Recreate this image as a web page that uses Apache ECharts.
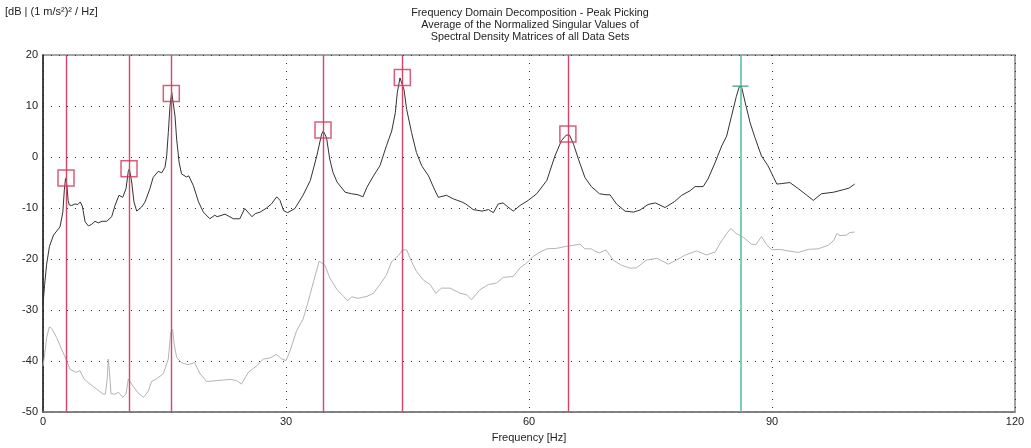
<!DOCTYPE html>
<html><head><meta charset="utf-8">
<script src="https://cdn.jsdelivr.net/npm/echarts@6/dist/echarts.min.js"></script>
<style>html,body{margin:0;padding:0;background:#fff}#c{width:1031px;height:448px}</style>
</head><body><div id="c"></div>
<script>
// First (averaged, normalized) singular value curve
const sv1Freq = [0,0.2,0.45,0.8,1.3,2.1,2.45,2.63,2.78,2.95,3.1,3.25,3.55,3.95,4.3,4.6,4.85,5.2,5.6,6.0,6.42,6.83,7.3,7.86,8.48,8.89,9.38,9.84,10.25,10.53,10.66,10.95,11.23,11.57,12.18,12.6,13.2,13.6,14.23,14.65,15.06,15.27,15.47,15.68,15.89,16.09,16.3,16.5,16.8,17.1,17.7,18.0,18.56,19.2,19.8,20.6,21.2,21.5,22.47,23.5,24.3,24.9,25.3,25.8,26.2,26.8,27.6,28.2,28.85,29.26,29.7,30.2,31.1,32.1,33.0,33.8,34.4,34.6,35.0,35.4,35.8,36.3,37.3,38.1,38.9,39.5,40.0,40.8,41.6,42.4,43.05,43.5,43.74,44.07,44.3,44.57,44.9,45.5,46.1,46.75,47.6,48.2,48.8,49.8,50.65,51.7,52.2,53.1,54.2,55.0,55.6,56.2,56.8,57.4,58.06,58.9,59.9,60.95,62.2,63.2,64.0,64.6,65.0,65.5,66.1,66.9,67.7,68.7,69.5,70.0,70.8,71.85,72.9,73.7,74.7,75.6,76.8,78.0,78.85,79.9,80.5,81.5,82.1,83.0,83.8,84.4,85.0,85.6,85.96,86.25,86.7,87.3,87.9,88.7,89.5,90.2,90.6,91.2,92.2,93.25,94.3,95.1,96.1,97.6,98.8,99.5,100.2];
const sv1Db = [-29,-25,-21,-17.5,-15.3,-13.7,-10.8,-6.5,-4.2,-5.5,-8.5,-9.4,-9.5,-9.2,-9.3,-8.8,-9.6,-12.7,-13.5,-13.2,-12.6,-12.9,-12.6,-12.6,-11.7,-9.5,-7.5,-7.9,-6.2,-2.8,-2.3,-4.9,-8.8,-10.6,-9.8,-8.8,-6.2,-4.0,-2.8,-3.1,-2.0,0.2,4.8,10.0,12.7,12.8,8.0,3.5,-1.0,-3.3,-3.9,-3.7,-5.6,-8.8,-10.8,-12.1,-11.4,-11.7,-11.2,-12.1,-12.1,-10.1,-10.8,-11.7,-11.1,-10.8,-10.0,-9.2,-7.8,-8.5,-10.5,-10.9,-10.1,-7.5,-4.6,0.2,4.5,5.1,3.8,-0.4,-3.0,-4.9,-6.9,-7.2,-7.4,-7.8,-5.9,-3.7,-1.7,2.2,5.1,8.7,12.6,15.5,15.5,13.2,9.3,4.8,0.9,-1.7,-3.7,-5.9,-7.9,-7.5,-8.2,-8.8,-9.2,-10.3,-10.6,-10.3,-10.9,-9.2,-9.0,-9.8,-10.6,-9.5,-8.5,-7.2,-4.6,0.2,3.2,4.3,4.3,2.5,-0.4,-4.0,-5.8,-7.2,-7.4,-7.4,-9.2,-10.6,-10.8,-10.4,-9.3,-9.0,-9.9,-8.7,-7.5,-6.6,-5.8,-5.8,-4.3,-1.0,2.2,4.1,8.0,11.9,13.8,13.7,10.6,6.7,3.8,0.2,-1.7,-4.0,-5.3,-5.2,-5.0,-6.2,-7.5,-8.5,-7.2,-6.9,-6.4,-6.1,-5.3];

// Second singular value curve
const sv2Freq = [0,0.16,0.45,0.78,1.07,1.69,2.3,2.84,3.33,4.07,4.57,5.06,5.8,6.63,7.44,7.7,7.94,8.06,8.2,8.4,8.9,9.3,9.84,10.25,10.53,10.7,11.15,11.77,12.4,13.0,13.4,14.0,14.85,15.47,15.76,16.0,16.2,16.5,17.1,17.9,18.7,19.4,20.2,21.0,22.3,23.1,23.9,24.5,25.35,26.4,27.2,28.0,28.8,29.5,30.0,30.5,31.3,32.1,32.75,33.4,34.1,34.8,35.4,36.3,37.1,37.6,38.1,38.9,40.0,40.8,41.6,42.4,43.05,43.9,44.4,44.9,45.5,46.1,46.95,47.8,48.5,49.2,50.25,51.5,52.3,52.9,53.95,54.98,56.0,56.8,58.06,58.9,59.7,60.5,61.4,62.2,63.4,64.65,66.3,66.9,67.7,68.1,68.7,69.5,70.4,71.4,72.5,73.3,74.5,75.8,77.2,78.2,79.3,80.7,81.9,83.0,83.6,84.4,84.9,85.6,86.5,87.5,88.0,88.7,88.9,89.3,89.95,91.0,92.0,93.25,94.5,95.7,96.95,97.65,98.0,98.4,99.2,99.6,100.2];
const sv2Db = [-41,-39.3,-35.4,-33.3,-33.6,-35.4,-37.7,-39.6,-41.6,-42.2,-41.9,-43.5,-44.5,-45.5,-46.5,-46.5,-43.2,-39.6,-42,-46.4,-46.5,-46.1,-47.1,-46.5,-43.5,-43.5,-45.0,-46.3,-47.1,-45.9,-44.0,-43.5,-42.5,-39.6,-34.4,-33.8,-36.7,-39.3,-40.3,-40.7,-40.3,-42.5,-44.0,-43.9,-43.7,-43.6,-43.8,-44.5,-42.2,-40.9,-39.6,-39.4,-38.7,-39.6,-39.9,-38.0,-34.1,-31.8,-28.3,-24.4,-20.4,-21.2,-23.7,-26.0,-27.3,-28.2,-27.4,-27.7,-27.3,-26.7,-25.0,-23.1,-20.5,-19.3,-18.2,-18.2,-20.5,-22.4,-24.1,-25.0,-26.7,-25.7,-25.7,-26.7,-27.0,-28.0,-26.0,-25.0,-24.7,-23.6,-23.4,-21.7,-20.8,-19.5,-18.6,-18.0,-17.9,-17.5,-17.1,-18.0,-18.0,-18.4,-18.8,-18.2,-20.2,-21.2,-21.8,-21.7,-20.2,-19.85,-21.0,-20.2,-19.2,-18.4,-19.2,-18.6,-16.9,-15.0,-14.0,-15.0,-15.8,-17.1,-17.2,-15.6,-15.3,-17.1,-18.2,-18.1,-18.4,-18.7,-18.1,-18.0,-17.3,-16.3,-15.0,-15.4,-15.3,-14.8,-14.7];

// Picked peaks
const peakFreq = [2.84, 10.62, 15.84, 34.57, 44.36, 64.8];
const peakDb = [-4.1, -2.3, 12.45, 5.3, 15.57, 4.5];
// Current (selected) peak
const selFreq = [86.1];
const selDb = [13.9];

const xTicks = [0, 30, 60, 90, 120];
const yTicks = [-50, -40, -30, -20, -10, 0, 10, 20];

const titleLines = ['Frequency Domain Decomposition - Peak Picking','Average of the Normalized Singular Values of','Spectral Density Matrices of all Data Sets'];
const yUnit = '[dB | (1 m/s\u00b2)\u00b2 / Hz]';
const xName = 'Frequency [Hz]';

const pair = (a, b) => a.map((v, i) => [v, b[i]]);
const font = 'Liberation Sans, Arial, sans-serif';

const chart = echarts.init(document.getElementById('c'), null, {renderer: 'canvas'});
chart.setOption({
  animation: false,
  backgroundColor: '#fff',
  textStyle: {fontFamily: font},
  graphic: [
    {type: 'text', x: 5, y: 6.5, style: {text: yUnit, fontSize: 11, fill: '#222', fontFamily: font}},
    {type: 'text', x: 530, y: 6.5, style: {text: titleLines.join('\n'), fontSize: 10.8, lineHeight: 12.4, fill: '#222', align: 'center', fontFamily: font}}
  ],
  grid: {left: 43, right: 16, top: 55, bottom: 33, show: true, borderColor: '#888', borderWidth: 1.5},
  xAxis: {
    type: 'value', min: 0, max: 120, interval: 30,
    name: xName, nameLocation: 'middle', nameGap: 17,
    nameTextStyle: {fontSize: 11, color: '#222', fontFamily: font},
    axisLine: {show: true, onZero: false, lineStyle: {color: '#777', width: 1.5}},
    axisTick: {show: false},
    axisLabel: {fontSize: 11, color: '#222', margin: 4, fontFamily: font,
      formatter: v => xTicks.includes(v) ? String(v) : ''},
    splitLine: {show: true, lineStyle: {color: '#333', type: [1, 7], width: 1}}
  },
  yAxis: {
    type: 'value', min: -50, max: 20, interval: 10,
    axisLine: {show: true, onZero: false, lineStyle: {color: '#222', width: 1.5}},
    axisTick: {show: false},
    axisLabel: {fontSize: 11, color: '#222', margin: 5, fontFamily: font,
      formatter: v => yTicks.includes(v) ? String(v) : ''},
    splitLine: {show: true, lineStyle: {color: '#333', type: [1, 7], width: 1}}
  },
  series: [
    {type: 'line', data: pair(sv2Freq, sv2Db), symbol: 'none', lineStyle: {color: '#b4b4b4', width: 1}, z: 2},
    {type: 'line', data: pair(sv1Freq, sv1Db), symbol: 'none', lineStyle: {color: '#333', width: 1}, z: 3,
      markLine: {silent: true, symbol: 'none', label: {show: false},
        lineStyle: {color: '#d8446a', width: 1.4, type: 'solid'},
        data: peakFreq.map(f => ({xAxis: f})).concat(selFreq.map(f => ({xAxis: f, lineStyle: {color: '#5cc3a0', width: 1.6}})))}},
    {type: 'scatter', data: pair(peakFreq, peakDb), symbol: 'rect', symbolSize: 16,
      itemStyle: {color: 'rgba(0,0,0,0)', borderColor: '#d3355a', borderWidth: 1.5}, z: 5},
    {type: 'scatter', data: pair(selFreq, selDb), symbol: 'rect', symbolSize: [16, 1.5],
      itemStyle: {color: '#2f9c72'}, z: 5}
  ]
});
</script></body></html>
